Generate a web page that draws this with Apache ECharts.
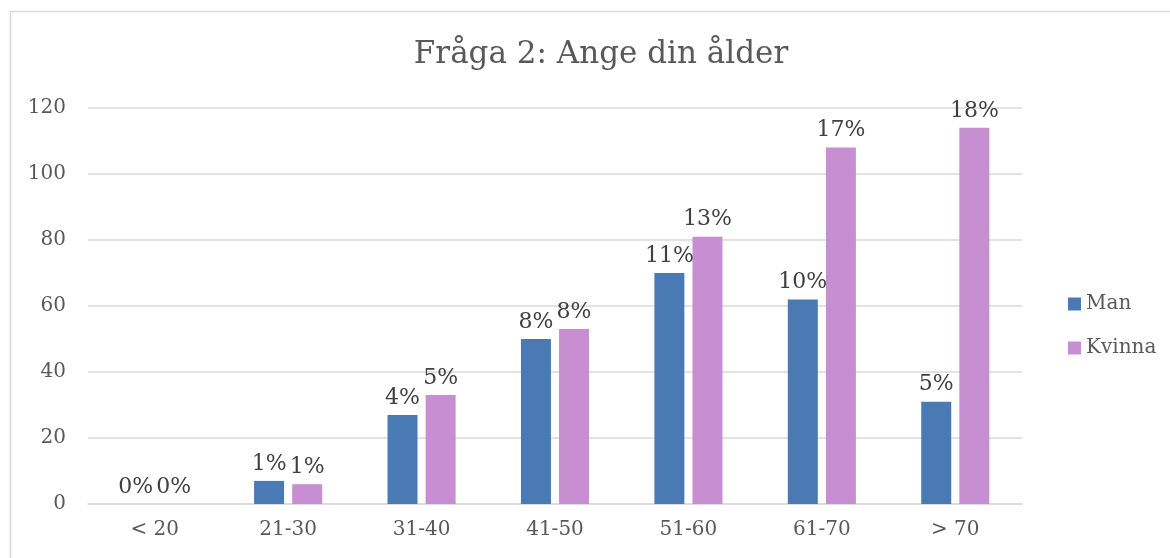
<!DOCTYPE html>
<html><head><meta charset="utf-8">
<script src="https://cdn.jsdelivr.net/npm/echarts@6/dist/echarts.min.js"></script>
<style>html,body{margin:0;padding:0;background:#fff}#c{width:1170px;height:558px}</style>
</head><body><div id="c"></div>
<script>
const categories = ['< 20','21-30','31-40','41-50','51-60','61-70','> 70'];
const manValues = [0,7,27,50,70,62,31];
const kvinnaValues = [0,6,33,53,81,108,114];
const manPct = ['0%','1%','4%','8%','11%','10%','5%'];
const kvinnaPct = ['0%','1%','5%','8%','13%','17%','18%'];
const yTicks = [0,20,40,60,80,100,120];

const FONT = '"DejaVu Serif", serif';
const chart = echarts.init(document.getElementById('c'));
chart.setOption({
  animation:false,
  backgroundColor:'#fff',
  graphic:[{type:'rect',shape:{x:10.5,y:11.5,width:1170,height:600},style:{fill:'none',stroke:'#d9d9d9',lineWidth:1.5}}],
  title:{text:'Fråga 2: Ange din ålder',top:34,left:596,textAlign:'center',textStyle:{fontFamily:FONT,fontSize:31,fontWeight:'normal',color:'#595959'}},
  legend:{orient:'vertical',left:1063,top:289,itemWidth:13,itemHeight:13,itemGap:24,icon:'rect',
    textStyle:{fontFamily:FONT,fontSize:20,color:'#595959'},data:['Man','Kvinna']},
  grid:{left:88,right:148,top:108,bottom:54,containLabel:false},
  xAxis:{type:'category',data:categories,axisTick:{show:false},
    axisLine:{lineStyle:{color:'#d9d9d9',width:1.5}},
    axisLabel:{fontFamily:FONT,fontSize:20,color:'#595959',margin:16}},
  yAxis:{type:'value',min:0,max:120,interval:20,
    axisLabel:{fontFamily:FONT,fontSize:20,color:'#595959',margin:22,formatter:v=>yTicks.includes(v)?String(v):''},
    splitLine:{lineStyle:{color:'#d9d9d9',width:1.5}},axisLine:{show:false},axisTick:{show:false}},
  series:[
    {name:'Man',type:'bar',data:manValues,barWidth:30,barGap:'27%',itemStyle:{color:'#4a7ab4'},
     label:{show:true,position:'top',distance:6,fontFamily:FONT,fontSize:22,color:'#404040',formatter:p=>manPct[p.dataIndex]}},
    {name:'Kvinna',type:'bar',data:kvinnaValues,barWidth:30,itemStyle:{color:'#c78fd1'},
     label:{show:true,position:'top',distance:6,fontFamily:FONT,fontSize:22,color:'#404040',formatter:p=>kvinnaPct[p.dataIndex]}}
  ]
});
</script></body></html>
